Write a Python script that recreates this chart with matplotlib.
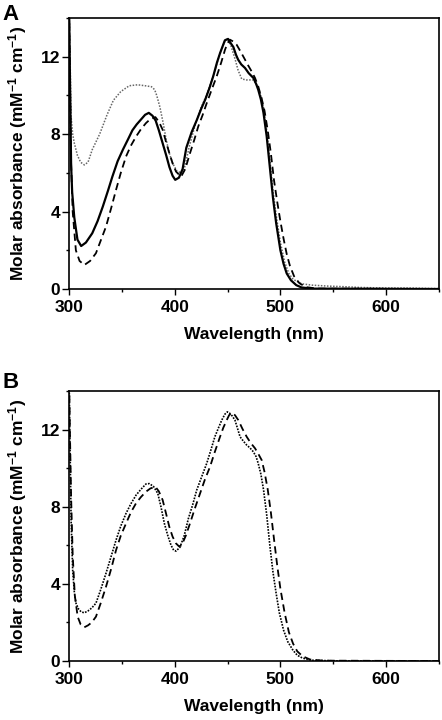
import matplotlib
matplotlib.use("Agg")
import matplotlib.pyplot as plt
from matplotlib.ticker import MultipleLocator


# panel A: three spectra (wavelength nm, molar absorbance)
wl_a_solid = [300, 301, 302, 303, 305, 308, 311.5, 316, 322, 327, 332, 337, 341, 346, 351, 356,
              360, 364, 368, 372, 375.5, 379, 382, 385, 388.5, 392, 395, 398, 400.5, 404, 407.5, 411,
              416, 421, 425, 429, 433, 436.5, 440, 443, 447.5, 450.5, 453, 455.5, 458, 460, 463, 466.5,
              470, 474.5, 477, 479, 481.5, 484, 487, 490, 493, 496, 500, 503, 506, 510, 515, 520,
              530, 650]
abs_a_solid = [15, 10.5, 6.4, 5.0, 3.7, 2.55, 2.22, 2.4, 2.88, 3.5, 4.26, 5.1, 5.8, 6.6, 7.2, 7.75,
               8.2, 8.5, 8.75, 9.0, 9.1, 8.95, 8.7, 8.2, 7.55, 6.9, 6.3, 5.85, 5.64, 5.75, 6.2, 7.3,
               8.1, 8.74, 9.3, 9.8, 10.4, 11.0, 11.7, 12.2, 12.85, 12.92, 12.7, 12.5, 12.1, 11.85, 11.6, 11.42,
               11.15, 10.9, 10.6, 10.3, 9.8, 9.1, 7.9, 6.3, 4.7, 3.4, 2.0, 1.3, 0.8, 0.45, 0.2, 0.08,
               0.02, 0.0]

wl_a_dash = [300, 301, 302, 303.5, 306.5, 310, 314.5, 320, 325.5, 330, 335, 340, 344.5, 349, 354, 358.5,
             363.5, 368, 372.8, 377, 381.7, 385, 388.6, 391.8, 394.9, 398, 401.2, 406, 410, 414.5, 418.5, 422.3,
             426.5, 430.3, 435, 439.7, 444, 447.6, 450, 452.3, 455.5, 458.6, 462.5, 466.5, 469.5, 472.8, 476, 479,
             482, 485, 488, 491, 494, 497, 500, 503, 506, 509, 513, 518, 524, 535, 650]
abs_a_dash = [15, 10.5, 6.5, 4.0, 2.0, 1.45, 1.24, 1.45, 1.85, 2.5, 3.22, 4.2, 5.12, 6.0, 6.85, 7.4,
              7.88, 8.25, 8.57, 8.78, 8.88, 8.65, 8.23, 7.6, 7.02, 6.5, 6.07, 5.8, 6.2, 7.02, 7.7, 8.4,
              9.0, 9.6, 10.3, 10.98, 11.7, 12.36, 12.7, 12.88, 12.78, 12.62, 12.25, 11.85, 11.55, 11.24, 10.9, 10.47,
              9.9, 9.2, 8.2, 7.0, 5.6, 4.5, 3.5, 2.6, 1.8, 1.2, 0.65, 0.3, 0.1, 0.02, 0.0]

wl_a_dot = [300, 301, 302, 303.5, 305, 308, 311, 314.5, 318, 322, 329, 336, 342, 349, 357, 365,
            372, 378, 381, 383, 386, 389, 392, 395, 398, 402, 406, 409, 414, 420, 424, 430,
            437, 443, 447, 450, 453, 457, 460, 463.4, 468, 474.4, 477, 479, 481, 484, 487, 490,
            493, 496, 500, 504, 508, 512, 520, 530, 545, 560, 575, 600, 620, 650]
abs_a_dot = [15, 12.0, 8.9, 8.0, 7.54, 6.9, 6.55, 6.41, 6.55, 7.2, 8.0, 9.0, 9.75, 10.2, 10.5, 10.55,
             10.5, 10.45, 10.3, 10.0, 9.4, 8.6, 7.7, 7.0, 6.5, 6.1, 6.0, 6.2, 7.4, 8.6, 9.26, 10.0,
             11.1, 12.2, 12.75, 12.92, 12.6, 11.9, 11.3, 10.85, 10.8, 10.8, 10.6, 10.4, 10.1, 9.4, 8.2, 6.7,
             5.1, 3.8, 2.4, 1.4, 0.8, 0.5, 0.27, 0.2, 0.15, 0.12, 0.08, 0.05, 0.05, 0.02]

# panel B: two spectra
wl_b_dot = [300, 301, 302, 303.5, 305, 306.6, 309, 311.5, 314.5, 318, 321.5, 325.5, 330, 335, 340, 344.5,
            349, 354, 358.5, 363.4, 368, 372.8, 376, 380, 384, 387, 390.2, 393.5, 396.5, 399, 401.2, 405,
            409, 413, 417, 420.8, 425.5, 430.3, 434, 438, 441.5, 444.5, 447.5, 449.8, 452, 454.5, 457, 459.5,
            461.8, 465, 468.1, 471.2, 474.4, 477, 479, 481.5, 484, 487, 490, 493, 496, 499, 503, 507,
            512, 516, 521, 530, 550, 650]
abs_b_dot = [15, 11, 7.3, 4.7, 3.6, 3.0, 2.7, 2.55, 2.5, 2.6, 2.75, 3.0, 3.7, 4.55, 5.45, 6.27,
             7.0, 7.66, 8.15, 8.6, 8.9, 9.18, 9.2, 9.05, 8.69, 8.0, 7.14, 6.5, 6.01, 5.75, 5.7, 5.9,
             6.5, 7.4, 8.1, 8.86, 9.55, 10.25, 10.9, 11.63, 12.1, 12.49, 12.8, 12.92, 12.85, 12.7, 12.49, 12.05,
             11.63, 11.4, 11.2, 11.05, 10.85, 10.6, 10.25, 9.7, 8.9, 7.6, 6.0, 4.6, 3.5, 2.5, 1.6, 1.0,
             0.55, 0.3, 0.15, 0.04, 0.01, 0.0]

wl_b_dash = [300, 301, 302, 303.5, 305.5, 308.2, 311, 314.5, 318, 321.5, 325.5, 330, 335, 340, 344.5, 349,
             354, 358.5, 363.4, 368, 372.8, 377, 381.7, 385, 388.6, 391.8, 394.9, 398, 401.2, 404, 406.6, 410.5,
             414.5, 419, 424, 428.5, 433.4, 438, 442.9, 446, 449.2, 451.5, 453.9, 457, 460.2, 464, 468.1, 472,
             476, 479, 482.3, 485, 488, 491, 494, 497, 500, 504, 508, 512, 516, 521, 528, 540, 650]
abs_b_dash = [15, 11.5, 8.5, 5.5, 3.4, 2.3, 1.9, 1.75, 1.85, 2.0, 2.3, 3.0, 3.85, 4.8, 5.75, 6.5,
              7.14, 7.7, 8.18, 8.5, 8.78, 8.95, 9.04, 8.8, 8.35, 7.65, 6.96, 6.45, 6.1, 5.95, 6.0, 6.5,
              7.14, 7.9, 8.69, 9.4, 10.07, 10.85, 11.63, 12.1, 12.49, 12.75, 12.87, 12.75, 12.49, 12.05, 11.63, 11.3,
              11.03, 10.75, 10.42, 9.8, 8.9, 7.7, 6.3, 4.95, 3.75, 2.5, 1.5, 0.9, 0.5, 0.25, 0.08, 0.02, 0.0]

x_ticks = [300, 400, 500, 600]
y_ticks = [0, 4, 8, 12]

plt.rcParams["font.family"] = ["Liberation Sans", "DejaVu Sans"]
plt.rcParams["font.weight"] = "bold"
plt.rcParams["mathtext.fontset"] = "custom"
plt.rcParams["mathtext.rm"] = "Liberation Sans:bold"
plt.rcParams["mathtext.default"] = "rm"


def style_axis(ax):
    ax.set_xlim(300, 650)
    ax.set_ylim(0, 14)
    ax.set_xticks(x_ticks)
    ax.set_yticks(y_ticks)
    ax.xaxis.set_minor_locator(MultipleLocator(50))
    ax.yaxis.set_minor_locator(MultipleLocator(2))
    ax.tick_params(axis="x", which="major", direction="out", length=4, width=1, pad=4, labelsize=12.5)
    ax.tick_params(axis="y", which="major", direction="out", length=5, width=1, pad=1.5, labelsize=12.5)
    ax.tick_params(which="minor", direction="out", length=2.5, width=1)
    for sp in ax.spines.values():
        sp.set_linewidth(1.2)
    ax.set_xlabel("Wavelength (nm)", fontsize=12.5, fontweight="bold")
    ax.set_ylabel(r"Molar absorbance (mM$^{-1}$ cm$^{-1}$)", fontsize=12.5, fontweight="bold")
    ax.xaxis.set_label_coords(0.5, -0.14)
    ax.yaxis.set_label_coords(-0.108, 0.5)


fig = plt.figure(figsize=(4.42, 7.2), dpi=100)
ax_a = fig.add_axes([0.1561, 0.5986, 0.837, 0.3764])
ax_b = fig.add_axes([0.1561, 0.0819, 0.837, 0.375])

ax_a.plot(wl_a_dot, abs_a_dot, color="0.4", lw=1.1, ls=(0, (1, 1)))
ax_a.plot(wl_a_solid, abs_a_solid, color="black", lw=1.6)
ax_a.plot(wl_a_dash, abs_a_dash, color="black", lw=1.3, ls=(0, (4, 2.5)))
style_axis(ax_a)

ax_b.plot(wl_b_dot, abs_b_dot, color="black", lw=1.2, ls=(0, (1, 0.8)))
ax_b.plot(wl_b_dash, abs_b_dash, color="black", lw=1.3, ls=(0, (4, 2.5)))
style_axis(ax_b)

fig.text(0.005, 0.995, "A", fontsize=16, fontweight="bold", va="top", ha="left")
fig.text(0.005, 0.483, "B", fontsize=16, fontweight="bold", va="top", ha="left")

fig.savefig("out.png", dpi=100)
plt.close(fig)
